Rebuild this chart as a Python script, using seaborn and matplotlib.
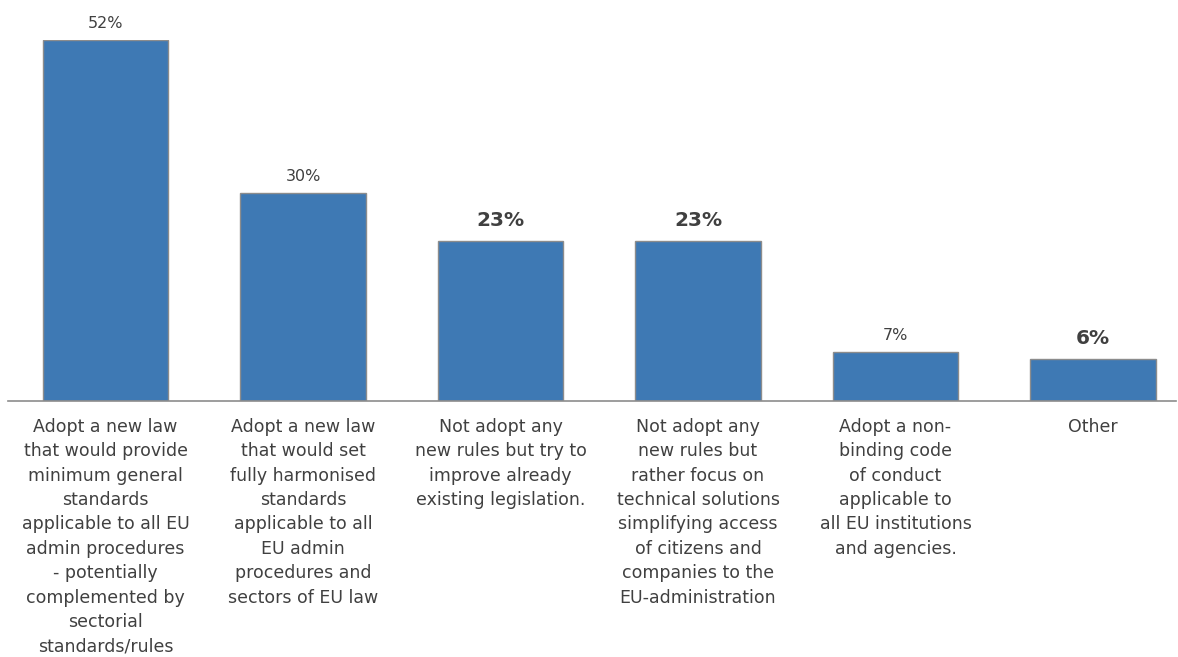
import matplotlib
matplotlib.use("Agg")
import matplotlib.pyplot as plt
import seaborn as sns
import pandas as pd

# Survey options (wrapped as displayed under each bar)
categories = [
    "Adopt a new law\nthat would provide\nminimum general\nstandards\napplicable to all EU\nadmin procedures\n- potentially\ncomplemented by\nsectorial\nstandards/rules",
    "Adopt a new law\nthat would set\nfully harmonised\nstandards\napplicable to all\nEU admin\nprocedures and\nsectors of EU law",
    "Not adopt any\nnew rules but try to\nimprove already\nexisting legislation.",
    "Not adopt any\nnew rules but\nrather focus on\ntechnical solutions\nsimplifying access\nof citizens and\ncompanies to the\nEU-administration",
    "Adopt a non-\nbinding code\nof conduct\napplicable to\nall EU institutions\nand agencies.",
    "Other",
]
shares = [52, 30, 23, 23, 7, 6]
label_bold = [False, False, True, True, False, True]

df = pd.DataFrame({"option": categories, "share": shares})

sns.set_style("white")
plt.rcParams["font.family"] = ["DejaVu Sans"]

W, H = 1178, 657
fig = plt.figure(figsize=(W / 100, H / 100), dpi=100)
ax = fig.add_axes([8 / W, (H - 401) / H, (1176 - 8) / W, 361 / H])

bar_color = "#3E79B4"
sns.barplot(data=df, x="option", y="share", color=bar_color, saturation=1,
            width=0.633, edgecolor="#8C8C8C", linewidth=1.0, ax=ax)

ax.set_ylim(0, 52)
ax.set_xlim((8 - 105.5) / 197.5, (1176 - 105.5) / 197.5)

text_color = "#404040"
for i, (v, b) in enumerate(zip(shares, label_bold)):
    if b:
        ax.annotate(f"{v}%", (i, v), xytext=(0, 8), textcoords="offset points",
                    ha="center", va="bottom", fontsize=14.5, fontweight="bold",
                    color=text_color, annotation_clip=False)
    else:
        ax.annotate(f"{v}%", (i, v), xytext=(0, 6.5), textcoords="offset points",
                    ha="center", va="bottom", fontsize=11.5,
                    color=text_color, annotation_clip=False)

ax.set_xlabel("")
ax.set_ylabel("")
ax.set_yticks([])
ax.tick_params(axis="x", length=0, pad=12)
for lbl in ax.get_xticklabels():
    lbl.set_fontsize(12.5)
    lbl.set_color(text_color)
    lbl.set_linespacing(1.46)
    lbl.set_va("top")
    lbl.set_ha("center")

for side in ["top", "right", "left"]:
    ax.spines[side].set_visible(False)
ax.spines["bottom"].set_color("#8C8C8C")
ax.spines["bottom"].set_linewidth(1.2)

fig.savefig("out.png", dpi=100)
